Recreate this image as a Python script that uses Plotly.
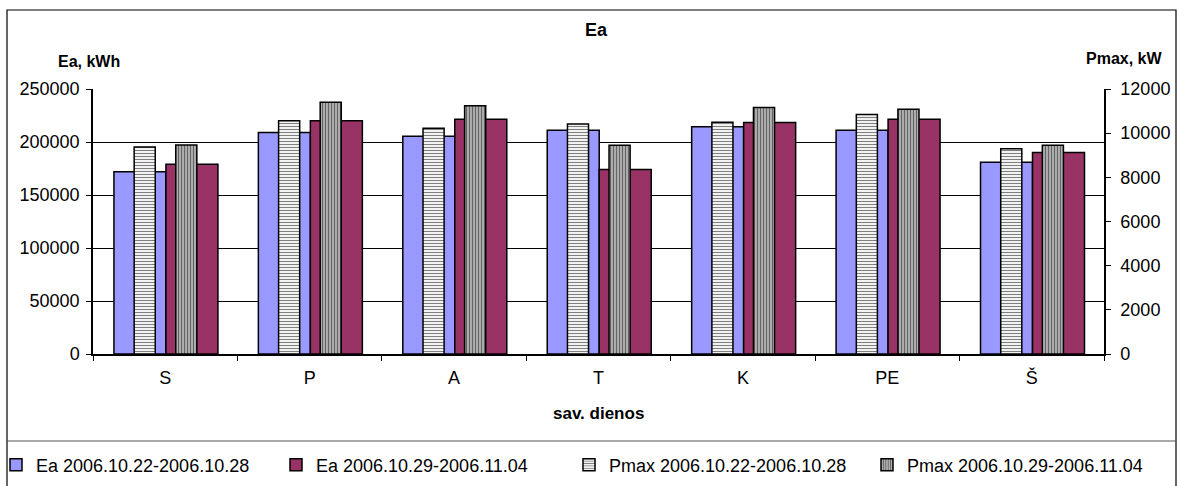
import plotly.graph_objects as go

days = ["S", "P", "A", "T", "K", "PE", "Š"]
ea_w1 = [172000, 209000, 205500, 211000, 214500, 211000, 181000]
ea_w2 = [179000, 220000, 221500, 174000, 218500, 221500, 190000]
pmax_w1 = [9370, 10560, 10220, 10410, 10490, 10840, 9300]
pmax_w2 = [9460, 11400, 11240, 9450, 11160, 11080, 9450]
names = ["Ea 2006.10.22-2006.10.28", "Ea 2006.10.29-2006.11.04",
         "Pmax 2006.10.22-2006.10.28", "Pmax 2006.10.29-2006.11.04"]
ea_ticks = [0, 50000, 100000, 150000, 200000, 250000]
p_ticks = [0, 2000, 4000, 6000, 8000, 10000, 12000]

FONT = "Liberation Sans, Arial, sans-serif"
L, R, T, B = 93, 1104, 89, 354
W, H = 1179, 486


def px(x):
    return (x - L) / (R - L)


def py(y):
    return (B - y) / (B - T)


fig = go.Figure()
line = dict(color="black", width=1.5)
fig.add_trace(go.Bar(x=days, y=ea_w1, name=names[0], width=0.36, offset=-0.355,
                     legend="legend",
                     marker=dict(color="#9999FF", line=line)))
fig.add_trace(go.Bar(x=days, y=ea_w2, name=names[1], width=0.36, offset=0.005,
                     legend="legend",
                     marker=dict(color="#993366", line=line)))
fig.add_trace(go.Bar(x=days, y=pmax_w1, name=names[2], width=0.146, offset=-0.215,
                     yaxis="y2", legend="legend2",
                     marker=dict(color="white", line=line,
                                 pattern=dict(shape="-", fgcolor="black", bgcolor="white",
                                              size=3, solidity=0.4))))
fig.add_trace(go.Bar(x=days, y=pmax_w2, name=names[3], width=0.146, offset=0.073,
                     yaxis="y2", legend="legend2",
                     marker=dict(color="white", line=line,
                                 pattern=dict(shape="|", fgcolor="#111111", bgcolor="#b4b4b4",
                                              size=3, solidity=0.4))))

legend_common = dict(orientation="h", yanchor="middle", y=py(465), xanchor="left",
                     font=dict(size=18), entrywidthmode="pixels",
                     bgcolor="rgba(0,0,0,0)", traceorder="normal")

fig.update_layout(
    width=W, height=H,
    margin=dict(l=L, r=W - R, t=T, b=H - B, autoexpand=False),
    paper_bgcolor="white", plot_bgcolor="white",
    font=dict(family=FONT, size=18, color="black"),
    barmode="overlay",
    showlegend=True,
    title=dict(text="<b>Ea</b>", x=596 / W, xanchor="center",
               y=1 - 30 / H, yanchor="middle", font=dict(size=18)),
    xaxis=dict(showline=True, linecolor="black", linewidth=1.5,
               ticks="outside", ticklen=5, tickcolor="black", tickson="boundaries",
               showgrid=False, automargin=False, ticklabelstandoff=7),
    yaxis=dict(range=[0, 250000], tickvals=ea_ticks, tickformat="d",
               showline=True, linecolor="black", linewidth=1.5,
               ticks="outside", ticklen=5, tickcolor="black",
               showgrid=True, gridcolor="black", gridwidth=1,
               zeroline=False, automargin=False, ticklabelstandoff=3),
    yaxis2=dict(range=[0, 12000], tickvals=p_ticks, tickformat="d",
                overlaying="y", side="right",
                showline=True, linecolor="black", linewidth=1.5,
                ticks="outside", ticklen=5, tickcolor="black",
                showgrid=False, zeroline=False, automargin=False, ticklabelstandoff=6),
    legend=dict(legend_common, x=px(-4), entrywidth=235),
    legend2=dict(legend_common, x=px(569), entrywidth=253),
)

fig.add_annotation(text="<b>Ea, kWh</b>", x=px(89), y=py(61), xref="paper", yref="paper",
                   showarrow=False, xanchor="center", yanchor="middle", font=dict(size=16))
fig.add_annotation(text="<b>Pmax, kW</b>", x=px(1124), y=py(58), xref="paper", yref="paper",
                   showarrow=False, xanchor="center", yanchor="middle", font=dict(size=16))
fig.add_annotation(text="<b>sav. dienos</b>", x=px(598), y=py(413), xref="paper", yref="paper",
                   showarrow=False, xanchor="center", yanchor="middle", font=dict(size=17))

# chart frame and legend separator
fig.add_shape(type="rect", xref="paper", yref="paper",
              x0=px(7), x1=px(1176), y0=py(492), y1=py(10),
              line=dict(color="black", width=1.2), layer="below")
fig.add_shape(type="line", xref="paper", yref="paper",
              x0=px(7), x1=px(1176), y0=py(441), y1=py(441),
              line=dict(color="#555555", width=1.2))

fig.write_html("out.html", config={"displayModeBar": False},
               post_script="document.body.style.margin='0px';")
